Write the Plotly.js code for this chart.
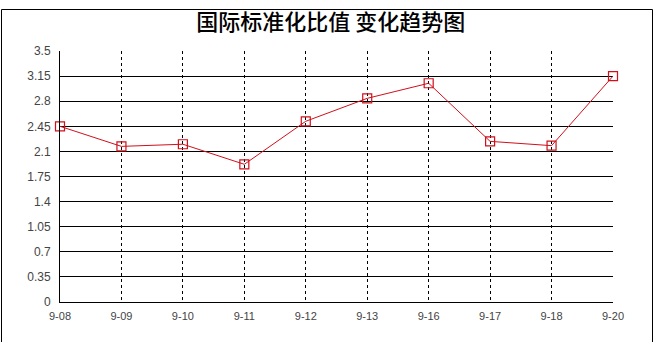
<!DOCTYPE html>
<html>
<head>
<meta charset="utf-8">
<script src="https://cdn.plot.ly/plotly-3.0.1.min.js"></script>
<style>html,body{margin:0;padding:0;background:#fff;}#chart{width:655px;height:342px;}</style>
</head>
<body>
<div id="chart"></div>
<script>
const categories = ['9-08','9-09','9-10','9-11','9-12','9-13','9-16','9-17','9-18','9-20'];
const ratioValues = [2.45, 2.17, 2.20, 1.92, 2.52, 2.84, 3.05, 2.24, 2.18, 3.15];
const yTickVals = [0, 0.35, 0.7, 1.05, 1.4, 1.75, 2.1, 2.45, 2.8, 3.15, 3.5];
const yTickText = ['0', '0.35', '0.7', '1.05', '1.4', '1.75', '2.1', '2.45', '2.8', '3.15', '3.5'];
const chartTitle = '国际标准化比值 变化趋势图';

const W = 655, H = 342;
const m = {l: 60, r: 42, t: 51, b: 40};
const pw = W - m.l - m.r, ph = H - m.t - m.b;
const px = x => (x - m.l) / pw;
const py = y => (H - m.b - y) / ph;

const trace = {
  x: categories,
  y: ratioValues,
  type: 'scatter',
  mode: 'lines+markers',
  line: {color: '#d0101c', width: 1},
  marker: {symbol: 'square-open', size: 9, color: '#d0101c', line: {color: '#d0101c', width: 1.2}},
  hoverinfo: 'skip',
  cliponaxis: false
};

const layout = {
  width: W, height: H,
  margin: m,
  paper_bgcolor: '#fff', plot_bgcolor: '#fff',
  showlegend: false,
  font: {family: '"Liberation Sans", Arial, sans-serif', size: 11, color: '#444'},
  title: {
    text: chartTitle,
    font: {family: '"Noto Sans CJK SC", sans-serif', size: 22, color: '#000', weight: 500},
    x: 0.505, xanchor: 'center', xref: 'container',
    y: 1 - 22 / H, yanchor: 'middle', yref: 'container'
  },
  xaxis: {
    type: 'category',
    range: [0, categories.length - 1],
    showgrid: true, gridcolor: '#000', gridwidth: 1, griddash: '3px,3px',
    showline: true, linecolor: '#000', linewidth: 1,
    ticks: '', ticklen: 0, ticklabelstandoff: 4,
    tickfont: {size: 11, color: '#444'},
    zeroline: false, fixedrange: true
  },
  yaxis: {
    range: [0, 3.5],
    tickvals: yTickVals, ticktext: yTickText,
    showgrid: true, gridcolor: '#000', gridwidth: 1,
    showline: true, linecolor: '#000', linewidth: 1,
    ticks: '', ticklen: 0, ticklabelstandoff: 6,
    tickfont: {size: 12, color: '#444'},
    zeroline: false, fixedrange: true
  },
  shapes: [
    {type: 'rect', xref: 'paper', yref: 'paper', x0: px(1.5), x1: px(652.5), y0: py(345), y1: py(9.5),
     line: {color: '#000', width: 1}, fillcolor: 'rgba(0,0,0,0)', layer: 'below'}
  ]
};

Plotly.newPlot('chart', [trace], layout, {staticPlot: true, displayModeBar: false});
</script>
</body>
</html>
